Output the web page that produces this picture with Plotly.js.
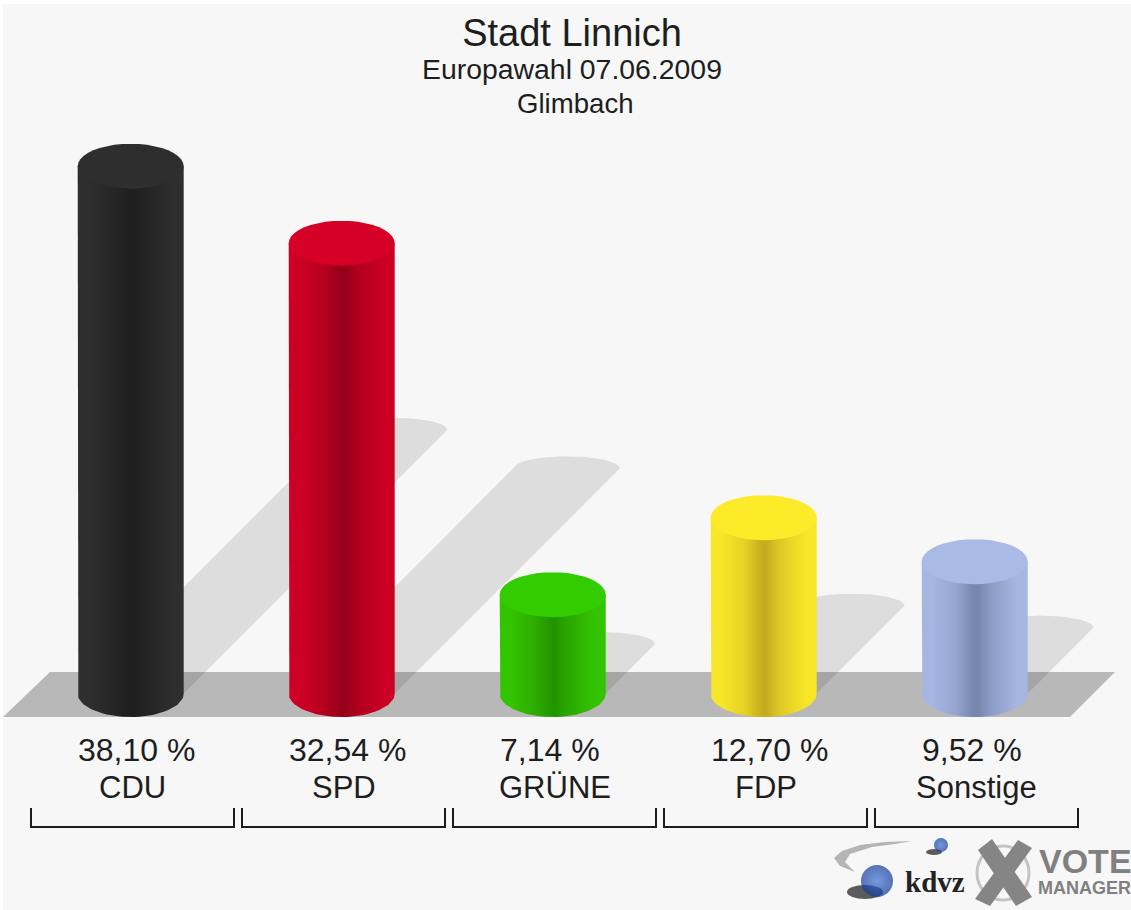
<!DOCTYPE html>
<html>
<head>
<meta charset="utf-8">
<script src="https://cdn.plot.ly/plotly-3.0.1.min.js"></script>
<style>html,body{margin:0;padding:0;background:#fff}#chart{width:1131px;height:910px}</style>
</head>
<body>
<div id="chart"></div>
<script>
// ---- data ----
const parties = ['CDU', 'SPD', 'GRÜNE', 'FDP', 'Sonstige'];
const shares = [38.10, 32.54, 7.14, 12.70, 9.52];
const capColors = ['#2e2e2e', '#d60026', '#33cc00', '#fdeb2a', '#aabae6'];
const edgeColors = ['#2e2e2e', '#cc0024', '#33c400', '#f8e628', '#a6b6e2'];
const shoulderColors = ['#272727', '#b8001f', '#2cae00', '#e6d226', '#96a6d0'];
const coreColors = ['#1f1f1f', '#96001a', '#229600', '#c4ac20', '#7786ac'];
const midColors = ['#232323', '#ae001d', '#29a800', '#dcc824', '#8a9ac2'];
const titleMain = 'Stadt Linnich';
const titleSub = 'Europawahl 07.06.2009';
const titleArea = 'Glimbach';

// ---- scale: the plot fills the page, these set how data maps to pixels ----
const W = 1131, H = 910;
const pxPerCat = 211, firstCenter = 130.7;
const baseline = 693.5, pxPerUnit = 13.84;
const rx = 53 / pxPerCat, ry = 22.5 / pxPerUnit, ryBottom = 23.5 / pxPerUnit, shadowRy = 12 / pxPerUnit;
const shadowFactor = 0.5;
const shadowSlant = pxPerUnit / pxPerCat;   // 45 degree slant
const xOf = p => (p - firstCenter) / pxPerCat;
const yOf = p => (baseline - p) / pxPerUnit;
const N = 40;

function arc(cx, cy, a0, a1, ax, ay) {
  const xs = [], ys = [];
  for (let k = 0; k <= N; k++) {
    const t = a0 + (a1 - a0) * k / N;
    xs.push(cx + ax * Math.cos(t));
    ys.push(cy + ay * Math.sin(t));
  }
  return [xs, ys];
}

const traces = [];

// shadows
shares.forEach((v, i) => {
  const h = v * shadowFactor;
  const cx = i + h * shadowSlant;
  const [ax, ay] = arc(cx, h, Math.PI, 0, rx, shadowRy);
  traces.push({
    x: [i - rx, ...ax, i + rx], y: [0, ...ay, 0],
    mode: 'lines', line: {width: 0}, fill: 'toself',
    fillcolor: 'rgba(0,0,0,0.10)', hoverinfo: 'skip'
  });
});

// cylinders
shares.forEach((v, i) => {
  const [bx, by] = arc(i, 0, Math.PI, 2 * Math.PI, rx, ryBottom);
  traces.push({
    x: [i - rx, ...bx, i + rx, i - rx], y: [v, ...by, v, v],
    mode: 'lines', line: {width: 0}, fill: 'toself', name: parties[i],
    fillgradient: {type: 'horizontal', colorscale: [
      [0, edgeColors[i]], [0.1, edgeColors[i]], [0.32, shoulderColors[i]], [0.49, coreColors[i]],
      [0.53, coreColors[i]], [0.64, midColors[i]], [0.9, edgeColors[i]], [1, edgeColors[i]]
    ]},
    hoverinfo: 'skip'
  });
  const [cx, cy] = arc(i, v, 0, 2 * Math.PI, rx, ry);
  traces.push({
    x: cx, y: cy, mode: 'lines', line: {width: 0}, fill: 'toself',
    fillcolor: capColors[i], hoverinfo: 'skip'
  });
});

// brackets under every party
const bracketShift = 1.8 / pxPerCat, bracketHalf = 101.5 / pxPerCat;
parties.forEach((p, i) => {
  const c = i + bracketShift;
  traces.push({
    x: [c - bracketHalf, c - bracketHalf, c + bracketHalf, c + bracketHalf],
    y: [yOf(808), yOf(827), yOf(827), yOf(808)],
    mode: 'lines', line: {color: '#1c1c1c', width: 2}, hoverinfo: 'skip'
  });
});

// logo spheres
traces.push({
  x: [xOf(877), xOf(941)], y: [yOf(881), yOf(845)], mode: 'markers',
  marker: {size: [32, 14], color: ['#123a9a', '#123a9a'],
           gradient: {type: 'radial', color: '#3a70d4'}, line: {width: 0}},
  hoverinfo: 'skip'
});

const T = (x, y) => [x / W, 1 - y / H];
const rectPx = (x0, y0, x1, y1, o) => {
  const a = T(x0, y0), b = T(x1, y1);
  return Object.assign({type: 'rect', xref: 'paper', yref: 'paper', layer: 'below',
    x0: a[0], y0: a[1], x1: b[0], y1: b[1], line: {width: 0}}, o);
};
const pathPx = (pts, o) => Object.assign({type: 'path', xref: 'paper', yref: 'paper', layer: 'below',
  path: 'M' + pts.map(p => T(p[0], p[1]).join(',')).join('L') + 'Z'}, o && o.style);
const ellipsePx = (cx, cy, a, b, style) => {
  const p0 = T(cx - a, cy - b), p1 = T(cx + a, cy + b);
  return Object.assign({type: 'circle', xref: 'paper', yref: 'paper', layer: 'below',
    x0: p0[0], y0: p0[1], x1: p1[0], y1: p1[1]}, style);
};

const shapes = [
  rectPx(3, 4, W, H, {fillcolor: '#f7f7f7'}),
  pathPx([[3, 717], [50, 672], [1115, 672], [1070, 717]], {style: {fillcolor: '#b8b8b8', line: {width: 0}}}),
  // logo: swoosh
  pathPx([[912, 841], [885, 842], [860, 845], [842, 851], [834, 858], [840, 866], [855, 872], [845, 862], [850, 854], [872, 847], [895, 844]],
         {style: {fillcolor: '#b5b5b5', line: {width: 0}}}),
  ellipsePx(865, 892, 18, 7, {fillcolor: 'rgba(30,30,30,0.72)', line: {width: 0}}),
  ellipsePx(934, 852, 8, 3, {fillcolor: 'rgba(30,30,30,0.72)', line: {width: 0}}),
  // logo: crossed circle
  ellipsePx(1003, 873, 26, 27, {fillcolor: 'rgba(0,0,0,0)', line: {color: '#c4c4c4', width: 3}}),
  pathPx([[978, 850], [992, 839], [1032, 897], [1016, 906]], {style: {fillcolor: '#858585', line: {width: 0}}}),
  pathPx([[1018, 840], [1032, 848], [990, 906], [975, 899]], {style: {fillcolor: '#858585', line: {width: 0}}})
];

const baseFont = {family: '"Liberation Sans", Arial, sans-serif', color: '#1e1e1e'};
const textAt = (text, xp, yp, size, extra) => Object.assign({
  text, xref: 'paper', yref: 'paper', x: xp / W, y: 1 - yp / H, showarrow: false,
  xanchor: 'center', yanchor: 'middle', font: Object.assign({}, baseFont, {size})
}, extra);

const annotations = [
  textAt(titleSub, 572, 69.5, 28.4),
  textAt(titleArea, 575, 103.5, 27.6)
];
parties.forEach((p, i) => {
  annotations.push({
    text: shares[i].toFixed(2).replace('.', ',') + ' %',
    xref: 'x', yref: 'paper', x: i - rx, y: 1 - 750 / H, showarrow: false,
    xanchor: 'left', yanchor: 'middle', xshift: -2,
    font: Object.assign({}, baseFont, {size: 32})
  });
  annotations.push({
    text: p, xref: 'x', yref: 'paper', x: i + bracketShift, y: 1 - 787.5 / H, showarrow: false,
    xanchor: 'center', yanchor: 'middle',
    font: Object.assign({}, baseFont, {size: 31})
  });
});
annotations.push(
  textAt('<b>kdvz</b>', 935, 882, 29, {font: {family: '"Liberation Serif", serif', size: 29, color: '#222'}}),
  textAt('<b>VOTE</b>', 1085, 861, 34, {font: {family: '"Liberation Sans", sans-serif', size: 34, color: '#808080'}}),
  textAt('<b>MANAGER</b>', 1084, 888, 18, {font: {family: '"Liberation Sans", sans-serif', size: 18, color: '#808080'}})
);

const layout = {
  width: W, height: H,
  margin: {l: 0, r: 0, t: 0, b: 0, pad: 0},
  paper_bgcolor: '#ffffff', plot_bgcolor: 'rgba(0,0,0,0)',
  showlegend: false, hovermode: false,
  title: {text: titleMain, x: 572 / W, xanchor: 'center', y: 1 - 33 / H, yanchor: 'middle',
          font: Object.assign({}, baseFont, {size: 38})},
  xaxis: {range: [xOf(0), xOf(W)], visible: false, fixedrange: true},
  yaxis: {range: [yOf(H), yOf(0)], visible: false, fixedrange: true},
  shapes, annotations
};
Plotly.newPlot('chart', traces, layout, {displayModeBar: false, staticPlot: true});
</script>
</body>
</html>
